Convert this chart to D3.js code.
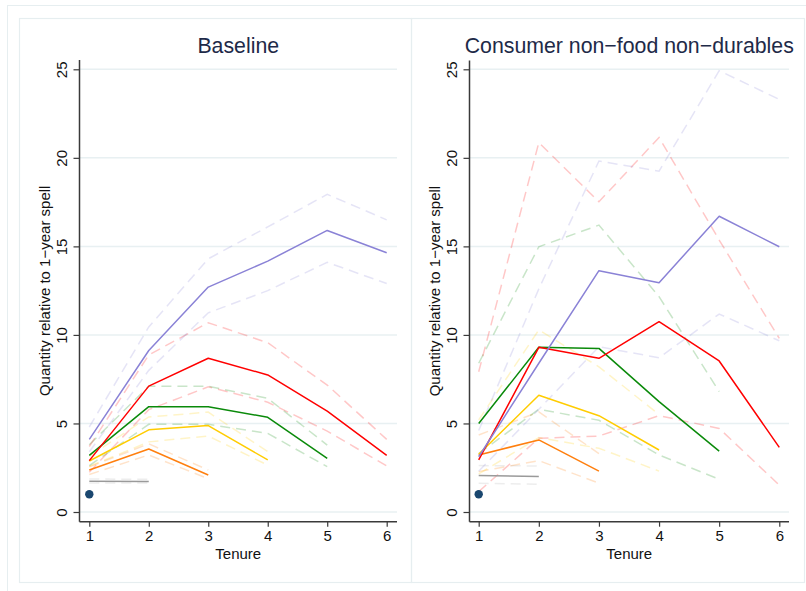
<!DOCTYPE html>
<html>
<head>
<meta charset="utf-8">
<script src="https://cdn.jsdelivr.net/npm/d3@7"></script>
<style>
html,body{margin:0;padding:0;background:#fff;}
svg{display:block;}
text{font-family:"Liberation Sans",Arial,Helvetica,sans-serif;}
</style>
</head>
<body>
<svg id="chart" width="806" height="591"></svg>
<script>
// ---------------- DATA ----------------
const tenureTicks = [1, 2, 3, 4, 5, 6];
const yTicks = [0, 5, 10, 15, 20, 25];
const panelTitles = ["Baseline", "Consumer non\u2212food non\u2212durables"];
const yLabel = "Quantity relative to 1\u2212year spell";
const xLabel = "Tenure";

// Spell groups (point estimate, upper CI, lower CI), tenure starts at 1
// Baseline panel
const base_spell1 = [1.0];
const base_gray    = [1.73, 1.72];
const base_gray_hi = [1.86, 1.85];
const base_gray_lo = [1.64, 1.64];
const base_orange    = [2.37, 3.56, 2.09];
const base_orange_hi = [2.55, 3.85, 2.37];
const base_orange_lo = [2.12, 3.22, 1.88];
const base_yellow    = [2.88, 4.64, 4.88, 2.94];
const base_yellow_hi = [3.15, 5.37, 5.64, 3.41];
const base_yellow_lo = [2.58, 3.96, 4.29, 2.65];
const base_green    = [3.2, 5.95, 5.95, 5.35, 3.03];
const base_green_hi = [3.8, 7.1, 7.1, 6.42, 3.78];
const base_green_lo = [2.62, 4.95, 4.95, 4.44, 2.56];
const base_red    = [2.9, 7.11, 8.68, 7.74, 5.7, 3.2];
const base_red_hi = [3.7, 8.87, 10.69, 9.56, 7.17, 4.1];
const base_red_lo = [2.25, 5.78, 7.07, 6.2, 4.57, 2.6];
const base_purple    = [4.1, 9.12, 12.7, 14.17, 15.9, 14.64];
const base_purple_hi = [4.8, 10.45, 14.3, 16.1, 17.94, 16.5];
const base_purple_lo = [3.4, 8.0, 11.25, 12.5, 14.1, 12.9];

// Consumer non-food non-durables panel
const cons_spell1 = [1.0];
const cons_gray    = [2.06, 2.0];
const cons_gray_hi = [2.62, 2.6];
const cons_gray_lo = [1.62, 1.57];
const cons_orange    = [3.22, 4.07, 2.31];
const cons_orange_hi = [4.35, 5.65, 3.3];
const cons_orange_lo = [2.28, 2.9, 1.63];
const cons_yellow    = [3.26, 6.59, 5.44, 3.5];
const cons_yellow_hi = [5.2, 10.28, 8.2, 5.5];
const cons_yellow_lo = [2.15, 4.2, 3.6, 2.31];
const cons_green    = [5.0, 9.3, 9.24, 6.23, 3.44];
const cons_green_hi = [8.4, 14.98, 16.2, 12.16, 6.8];
const cons_green_lo = [3.3, 5.8, 5.18, 3.22, 1.85];
const cons_red    = [2.94, 9.3, 8.68, 10.75, 8.53, 3.65];
const cons_red_hi = [7.92, 20.86, 17.52, 21.15, 15.36, 9.8];
const cons_red_lo = [1.15, 4.16, 4.29, 5.44, 4.72, 1.52];
const cons_purple    = [3.12, 8.4, 13.63, 12.95, 16.7, 14.98];
const cons_purple_hi = [4.6, 12.6, 19.82, 19.25, 24.92, 23.3];
const cons_purple_lo = [2.3, 5.8, 9.33, 8.71, 11.18, 9.67];

// ---------------- STYLE / LAYOUT ----------------
const colors = {
  gray: "#9a9a9a", orange: "#ff7f0e", yellow: "#ffcc00",
  green: "#0a8a0a", red: "#ff0000", purple: "#8a82d6", navy: "#1a476f"
};
const frameColor = "#e6eef0";
const gridColor = "#e8f0f2";
const axisColor = "#3a3a3a";
const titleColor = "#1e2a48";

const panels = [
  { title: panelTitles[0], frame: [19, 18, 411, 582],
    plot: { left: 79.5, right: 397, top: 60, bottom: 521.7 },
    x: [89.3, 386.7],
    dot: base_spell1,
    groups: [
      ["gray", base_gray, base_gray_hi, base_gray_lo],
      ["orange", base_orange, base_orange_hi, base_orange_lo],
      ["yellow", base_yellow, base_yellow_hi, base_yellow_lo],
      ["green", base_green, base_green_hi, base_green_lo],
      ["red", base_red, base_red_hi, base_red_lo],
      ["purple", base_purple, base_purple_hi, base_purple_lo]
    ] },
  { title: panelTitles[1], frame: [411, 18, 804, 582],
    plot: { left: 469.5, right: 789, top: 60.5, bottom: 521.7 },
    x: [478.7, 779.3],
    dot: cons_spell1,
    groups: [
      ["gray", cons_gray, cons_gray_hi, cons_gray_lo],
      ["orange", cons_orange, cons_orange_hi, cons_orange_lo],
      ["yellow", cons_yellow, cons_yellow_hi, cons_yellow_lo],
      ["green", cons_green, cons_green_hi, cons_green_lo],
      ["red", cons_red, cons_red_hi, cons_red_lo],
      ["purple", cons_purple, cons_purple_hi, cons_purple_lo]
    ] }
];

const svg = d3.select("#chart");
svg.append("rect").attr("width", 806).attr("height", 591).attr("fill", "#fff");
// outer frame (cropped)
svg.append("rect").attr("x", 7.5).attr("y", 5.5).attr("width", 820).attr("height", 620)
  .attr("fill", "none").attr("stroke", frameColor).attr("stroke-width", 1);

panels.forEach(p => {
  const g = svg.append("g");
  const [fx0, fy0, fx1, fy1] = p.frame;
  g.append("rect").attr("x", fx0 + 0.5).attr("y", fy0 + 0.5)
    .attr("width", fx1 - fx0).attr("height", fy1 - fy0)
    .attr("fill", "none").attr("stroke", frameColor).attr("stroke-width", 1.2);

  const x = d3.scaleLinear().domain([1, 6]).range(p.x);
  const y = d3.scaleLinear().domain([0, 25]).range([512, 69.3]);

  // gridlines
  g.selectAll(".grid").data(yTicks).enter().append("line")
    .attr("x1", p.plot.left).attr("x2", p.plot.right)
    .attr("y1", d => y(d)).attr("y2", d => y(d))
    .attr("stroke", gridColor).attr("stroke-width", 1.5);

  const line = d3.line().x((d, i) => x(tenureTicks[i])).y(d => y(d));

  // CI dashed lines first
  p.groups.forEach(([c, est, hi, lo]) => {
    [hi, lo].forEach(s => {
      g.append("path").attr("d", line(s)).attr("fill", "none")
        .attr("stroke", colors[c]).attr("stroke-opacity", c === "gray" ? 0.18 : 0.22)
        .attr("stroke-width", 1.5).attr("stroke-dasharray", "10,6");
    });
  });
  // point estimates
  p.groups.forEach(([c, est]) => {
    g.append("path").attr("d", line(est)).attr("fill", "none")
      .attr("stroke", colors[c]).attr("stroke-width", 1.5)
      .attr("stroke-linejoin", "round");
  });
  // spell-1 dot
  g.selectAll(".dot").data(p.dot).enter().append("circle")
    .attr("cx", (d, i) => x(tenureTicks[i])).attr("cy", d => y(d)).attr("r", 4.2)
    .attr("fill", colors.navy);

  // axes
  const xAxis = d3.axisBottom(x).tickValues(tenureTicks).tickSize(5).tickPadding(4)
    .tickFormat(d3.format("d"));
  const xg = g.append("g").attr("transform", `translate(0,${p.plot.bottom})`).call(xAxis);
  xg.select(".domain").remove();
  xg.append("line").attr("x1", p.plot.left).attr("x2", p.plot.right)
    .attr("stroke", axisColor).attr("stroke-width", 1.5);
  xg.selectAll(".tick line").attr("stroke", axisColor).attr("stroke-width", 1.2);
  xg.selectAll(".tick text").attr("font-size", 15).attr("fill", "#111")
    .attr("font-family", "Liberation Sans, Arial, sans-serif");

  const yAxis = d3.axisLeft(y).tickValues(yTicks).tickSize(6).tickFormat(d3.format("d"));
  const yg = g.append("g").attr("transform", `translate(${p.plot.left},0)`).call(yAxis);
  yg.select(".domain").remove();
  yg.append("line").attr("y1", p.plot.top).attr("y2", p.plot.bottom)
    .attr("stroke", axisColor).attr("stroke-width", 1.5);
  yg.selectAll(".tick line").attr("stroke", axisColor).attr("stroke-width", 1.2);
  yg.selectAll(".tick text")
    .attr("x", null).attr("dy", null)
    .attr("transform", "translate(-13,0) rotate(-90)")
    .attr("text-anchor", "middle")
    .attr("font-size", 15).attr("fill", "#111")
    .attr("font-family", "Liberation Sans, Arial, sans-serif");

  // titles & labels
  const cx = (p.plot.left + p.plot.right) / 2;
  g.append("text").attr("x", cx).attr("y", 52.5).attr("text-anchor", "middle")
    .attr("font-size", 21.3).attr("fill", titleColor).text(p.title);
  g.append("text").attr("x", cx).attr("y", 559).attr("text-anchor", "middle")
    .attr("font-size", 15).attr("fill", "#111").text(xLabel);
  const ly = (p.plot.top + p.plot.bottom) / 2;
  g.append("text")
    .attr("transform", `translate(${p.plot.left - 30},${ly}) rotate(-90)`)
    .attr("text-anchor", "middle").attr("font-size", 15).attr("fill", "#111")
    .text(yLabel);
});
</script>
</body>
</html>
